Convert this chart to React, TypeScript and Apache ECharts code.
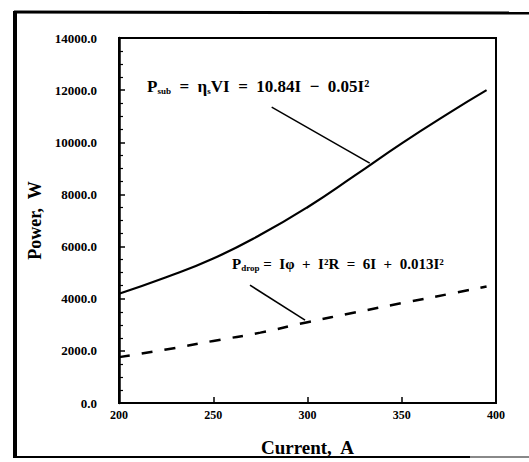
import React, { useEffect, useRef } from "react";
import * as echarts from "echarts";

const currents = [200, 225, 250, 275, 300, 325, 350, 375, 395];
const pSub = [4190, 4820, 5540, 6450, 7510, 8720, 9960, 11120, 12000];
const pDrop = [1760, 2050, 2380, 2700, 3100, 3470, 3830, 4180, 4470];
const yTicks = [0, 2000, 4000, 6000, 8000, 10000, 12000, 14000];
const xTicks = [200, 250, 300, 350, 400];
const subLeader = [[281, 11350], [333, 9200]];
const dropLeader = [[269.5, 4520], [298.7, 3180]];

const FONT = "'Liberation Serif', 'DejaVu Serif', serif";

export default function App() {
  const ref = useRef<HTMLDivElement>(null);
  useEffect(() => {
    if (!ref.current) return;
    const chart = echarts.init(ref.current, null, { renderer: "svg" });
    const leader = (pts: number[][]) => ({
      silent: true,
      symbol: "none",
      label: { show: false },
      lineStyle: { color: "#000", width: 1.6, type: "solid" },
      data: [[{ coord: pts[0] }, { coord: pts[1] }]],
    });
    const subStyle = { fontFamily: FONT, fontWeight: "bold", fontSize: 9, padding: [9, 0, 0, 0] };
    const mainStyle = { fontFamily: FONT, fontWeight: "bold", fontSize: 17 };
    const mainStyle2 = { fontFamily: FONT, fontWeight: "bold", fontSize: 15 };
    chart.setOption({
      animation: false,
      backgroundColor: "#fff",
      grid: {
        left: 119, right: 33, top: 38, bottom: 59,
        show: true, borderColor: "#000", borderWidth: 2,
      },
      xAxis: {
        type: "value",
        min: xTicks[0],
        max: xTicks[xTicks.length - 1],
        interval: 50,
        name: "Current,  A",
        nameLocation: "middle",
        nameGap: 35,
        nameTextStyle: { fontFamily: FONT, fontSize: 19, fontWeight: "bold", color: "#000" },
        axisLine: { lineStyle: { color: "#000", width: 2 } },
        axisTick: { inside: true, length: 6, lineStyle: { color: "#000", width: 1.5 } },
        splitLine: { show: false },
        axisLabel: {
          fontFamily: FONT, fontWeight: "bold", fontSize: 12, color: "#000", margin: 6,
          formatter: (v: number) => String(v),
        },
      },
      yAxis: {
        type: "value",
        min: yTicks[0],
        max: yTicks[yTicks.length - 1],
        interval: 2000,
        name: "Power,  W",
        nameLocation: "middle",
        nameGap: 73,
        nameTextStyle: { fontFamily: FONT, fontSize: 18, fontWeight: "bold", color: "#000" },
        axisLine: { lineStyle: { color: "#000", width: 2.5 } },
        axisTick: { inside: true, length: 6, lineStyle: { color: "#000", width: 1.5 } },
        minorTick: { show: true, splitNumber: 4, length: 4, lineStyle: { color: "#000", width: 1.2 } },
        splitLine: { show: false },
        axisLabel: {
          fontFamily: FONT, fontWeight: "bold", fontSize: 13, color: "#000", margin: 22,
          formatter: (v: number) => v.toFixed(1),
        },
      },
      series: [
        {
          type: "line",
          data: currents.map((c, i) => [c, pSub[i]]),
          smooth: 0.5,
          symbol: "none",
          lineStyle: { color: "#000", width: 2.2 },
          markLine: leader(subLeader),
        },
        {
          type: "line",
          data: currents.map((c, i) => [c, pDrop[i]]),
          smooth: 0.5,
          symbol: "none",
          lineStyle: { color: "#000", width: 2.5, type: [11, 12] },
          markLine: leader(dropLeader),
        },
      ],
      graphic: [
        { type: "line", shape: { x1: 14, y1: 12, x2: 529, y2: 13 }, style: { stroke: "#000", lineWidth: 3 } },
        { type: "line", shape: { x1: 15, y1: 11, x2: 15, y2: 458 }, style: { stroke: "#000", lineWidth: 4 } },
        { type: "line", shape: { x1: 14, y1: 457, x2: 470, y2: 457 }, style: { stroke: "#000", lineWidth: 2 } },
        { type: "line", shape: { x1: 470, y1: 457, x2: 529, y2: 457 }, style: { stroke: "#888", lineWidth: 2 } },
        {
          type: "text",
          left: 147,
          top: 78,
          style: {
            text: "{m|P}{s|sub}{m|  =  η}{s|s}{m|VI  =  10.84I  −  0.05I²}",
            fill: "#000",
            rich: { m: mainStyle, s: subStyle },
          },
        },
        {
          type: "text",
          left: 232,
          top: 256,
          style: {
            text: "{m|P}{s|drop}{m| =  Iφ  +  I²R  =  6I  +  0.013I²}",
            fill: "#000",
            rich: { m: mainStyle2, s: subStyle },
          },
        },
      ],
    });
    return () => chart.dispose();
  }, []);
  return (
    <div
      ref={ref}
      style={{ position: "fixed", left: 0, top: 0, width: 529, height: 462, background: "#fff" }}
    />
  );
}
